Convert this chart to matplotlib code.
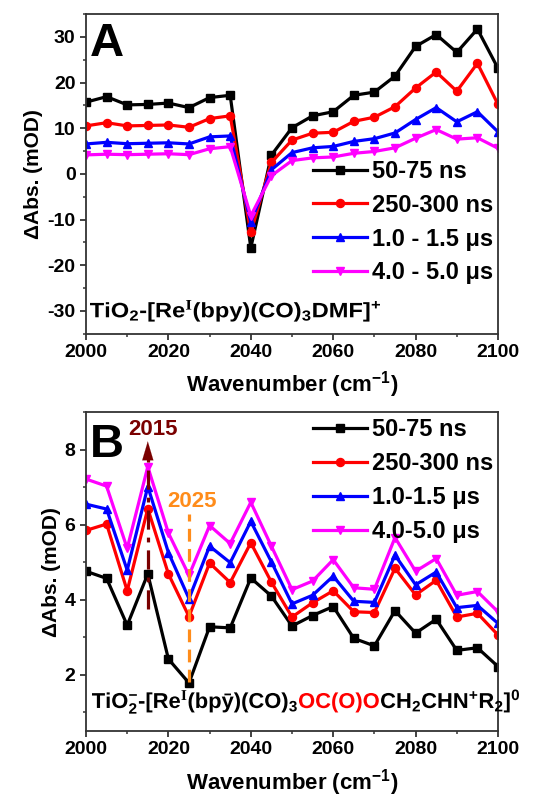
import numpy as np
import matplotlib
matplotlib.use("Agg")
import matplotlib.pyplot as plt
from matplotlib.ticker import MultipleLocator
from matplotlib.textpath import TextPath
from matplotlib.patches import PathPatch
from matplotlib.font_manager import FontProperties
from matplotlib.transforms import Affine2D

plt.rcParams['font.family'] = ['Liberation Sans', 'DejaVu Sans']
plt.rcParams['font.weight'] = 'bold'
plt.rcParams['axes.unicode_minus'] = False
plt.rcParams['mathtext.fontset'] = 'custom'
plt.rcParams['mathtext.bf'] = 'Liberation Sans:bold'
plt.rcParams['mathtext.rm'] = 'Liberation Serif'
plt.rcParams['mathtext.it'] = 'Liberation Sans:italic:bold'
plt.rcParams['mathtext.default'] = 'bf'

wavenumber = [2000, 2005, 2010, 2015, 2020, 2025, 2030, 2035, 2040, 2045, 2050,
              2055, 2060, 2065, 2070, 2075, 2080, 2085, 2090, 2095, 2100]

# Panel A
a_labels = ["50-75 ns", "250-300 ns", "1.0 - 1.5 \u03bcs", "4.0 - 5.0 \u03bcs"]
a_50_75ns = [15.7, 16.9, 15.1, 15.2, 15.5, 14.5, 16.7, 17.2, -16.2, 4.1, 10.1,
             12.7, 13.6, 17.2, 17.9, 21.4, 27.9, 30.5, 26.6, 31.7, 23.1]
a_250_300ns = [10.5, 11.2, 10.5, 10.6, 10.7, 10.2, 12.1, 12.7, -12.8, 2.5, 7.4,
               8.9, 9.1, 11.5, 12.4, 14.7, 18.8, 22.3, 18.1, 24.2, 15.2]
a_1_1p5us = [6.55, 6.9, 6.6, 6.7, 6.8, 6.55, 8.1, 8.3, -10.6, 0.9, 4.65,
             5.7, 6.0, 7.1, 7.7, 8.95, 11.9, 14.5, 11.4, 13.6, 9.2]
a_4_5us = [4.15, 4.3, 4.2, 4.3, 4.4, 4.2, 5.5, 5.95, -9.2, -0.4, 2.9,
           3.5, 3.7, 4.5, 4.9, 5.7, 7.8, 9.7, 7.6, 7.9, 5.6]

# Panel B
b_labels = ["50-75 ns", "250-300 ns", "1.0-1.5 \u03bcs", "4.0-5.0 \u03bcs"]
b_50_75ns = [4.76, 4.57, 3.32, 4.69, 2.42, 1.78, 3.28, 3.25, 4.58, 4.10, 3.30,
             3.58, 3.82, 2.97, 2.77, 3.71, 3.11, 3.48, 2.65, 2.72, 2.22]
b_250_300ns = [5.85, 6.02, 4.24, 6.43, 4.69, 3.55, 4.98, 4.46, 5.52, 4.47, 3.54,
               3.92, 4.24, 3.68, 3.66, 4.84, 4.13, 4.52, 3.54, 3.64, 3.06]
b_1_1p5us = [6.55, 6.42, 4.79, 7.02, 5.26, 4.03, 5.43, 4.99, 6.09, 5.01, 3.89,
             4.12, 4.63, 3.96, 3.93, 5.19, 4.40, 4.74, 3.79, 3.85, 3.37]
b_4_5us = [7.22, 7.03, 5.37, 7.55, 5.78, 4.65, 5.98, 5.50, 6.60, 5.43, 4.27,
           4.50, 5.07, 4.32, 4.28, 5.66, 4.76, 5.10, 4.12, 4.22, 3.68]

peak_2015 = 2015
peak_2025 = 2025

colors = ['#000000', '#ff0000', '#0000ff', '#ff00ff']
markers = ['s', 'o', '^', 'v']

W, H = 549, 798
fig = plt.figure(figsize=(W / 100, H / 100), dpi=100)

axA = fig.add_axes([86 / W, 1 - 333.7 / H, (498 - 86) / W, (333.7 - 14) / H])
axB = fig.add_axes([86 / W, 1 - 731 / H, (498 - 86) / W, (731 - 412.3) / H])


def style(ax):
    for sp in ax.spines.values():
        sp.set_linewidth(1.3)
        sp.set_color('#333333')
    ax.tick_params(axis='both', which='major', direction='out', length=4, width=1.3,
                   labelsize=14, top=False, right=False, color='#333333')
    ax.tick_params(axis='both', which='minor', direction='out', length=2.5, width=1.1,
                   top=False, right=False, color='#333333')
    for lab in ax.get_xticklabels() + ax.get_yticklabels():
        lab.set_fontweight('bold')
    ax.set_xlim(2000, 2100)
    ax.xaxis.set_major_locator(MultipleLocator(20))
    ax.xaxis.set_minor_locator(MultipleLocator(10))
    ax.set_xlabel("Wavenumber (cm$^{\\mathbf{-1}}$)", fontsize=16, fontweight='bold', labelpad=6)
    ax.set_ylabel("\u0394Abs. (mOD)", fontsize=15, fontweight='bold', labelpad=3)


leg_kw = dict(frameon=False, handlelength=2.25, handletextpad=0.25, labelspacing=0.46,
              borderaxespad=0.2, prop={'weight': 'bold', 'size': 17})

seriesA = [a_50_75ns, a_250_300ns, a_1_1p5us, a_4_5us]
for ys, c, m, lab in zip(seriesA, colors, markers, a_labels):
    axA.plot(wavenumber, ys, color=c, marker=m, markersize=5.8, linewidth=2.3, label=lab)
style(axA)
axA.set_ylim(-35, 35)
axA.yaxis.set_major_locator(MultipleLocator(10))
axA.yaxis.set_minor_locator(MultipleLocator(5))
axA.legend(loc='lower right', bbox_to_anchor=(1.024, 0.11), **leg_kw)
axA.text(0.01, 0.975, "A", transform=axA.transAxes, fontsize=34, fontweight='bold',
         va='top', ha='left')

seriesB = [b_50_75ns, b_250_300ns, b_1_1p5us, b_4_5us]
for ys, c, m, lab in zip(seriesB, colors, markers, b_labels):
    axB.plot(wavenumber, ys, color=c, marker=m, markersize=5.8, linewidth=2.3, label=lab)
style(axB)
axB.set_ylim(0.5, 9)
axB.yaxis.set_major_locator(MultipleLocator(2))
axB.yaxis.set_minor_locator(MultipleLocator(1))
axB.legend(loc='upper right', bbox_to_anchor=(1.024, 1.025), **leg_kw)
axB.text(0.01, 0.965, "B", transform=axB.transAxes, fontsize=34, fontweight='bold',
         va='top', ha='left')

# 2015 arrow (dash-dot, dark red)
dark_red = '#7a0000'
axB.plot([peak_2015, peak_2015], [3.75, 7.9], color=dark_red, linewidth=2.3,
         linestyle=(0, (6, 2.5, 1.5, 2.5)))
axB.annotate("", xy=(peak_2015, 8.3), xytext=(peak_2015, 7.75),
             arrowprops=dict(arrowstyle='-|>,head_length=1.35,head_width=0.4',
                             color=dark_red, lw=0.1))
axB.text(peak_2015 + 1.2, 8.55, "2015", color=dark_red, fontsize=16, fontweight='bold',
         ha='center', va='center')

# 2025 dashed line (orange)
orange = '#ff8c1a'
axB.plot([peak_2025, peak_2025], [1.8, 6.3], color=orange, linewidth=2.3,
         linestyle=(0, (4, 2.3)))
axB.text(peak_2025 + 0.8, 6.61, "2025", color=orange, fontsize=16, fontweight='bold',
         ha='center', va='center')

# formula labels drawn as text paths, fitted to the reference extent
fp = FontProperties(family='Liberation Sans', weight='bold')


def formula(pieces, x0, x1, baseline_from_top, size_pt):
    size_px = size_pt * 100 / 72
    paths = []
    x = 0.0
    for s, c in pieces:
        tp = TextPath((x, 0), s, size=size_px, prop=fp)
        ext = tp.get_extents()
        paths.append((tp, c))
        x = ext.x1 + 0.06 * size_px
    total = paths[-1][0].get_extents().x1 - paths[0][0].get_extents().x0
    sx = (x1 - x0) / total
    base = H - baseline_from_top
    x_start = paths[0][0].get_extents().x0
    for tp, c in paths:
        tr = Affine2D().translate(-x_start, 0).scale(sx, 1).translate(x0, base)
        fig.add_artist(PathPatch(tp, transform=tr, facecolor=c, edgecolor='none'))


formula([("TiO$_\\mathbf{2}$-[Re$^\\mathrm{I}$(bpy)(CO)$_\\mathbf{3}$DMF]$^\\mathbf{+}$", 'black')],
        90, 380, 317.3, 15)

formula([
    ("TiO$_\\mathbf{2}^\\mathbf{-}$-[Re$^\\mathrm{I}$(bp\u0233)(CO)$_\\mathbf{3}$", 'black'),
    ("OC(O)O", '#ff0000'),
    ("CH$_\\mathbf{2}$CHN$^\\mathbf{+}$R$_\\mathbf{2}$]$^\\mathbf{0}$", 'black'),
], 92, 519, 708, 15.5)

fig.savefig("out.png", dpi=100)
